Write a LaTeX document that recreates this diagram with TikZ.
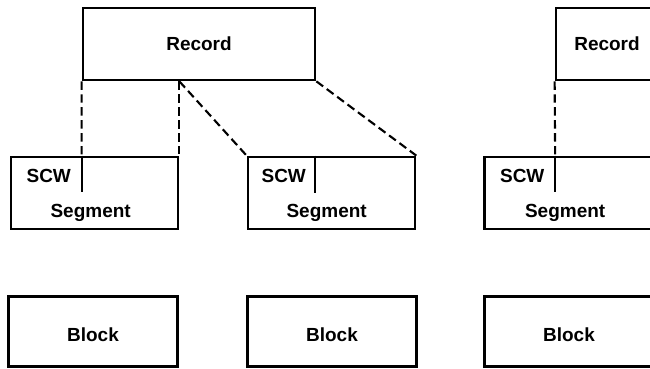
\documentclass[tikz,border=0pt]{standalone}
\usepackage{fontspec}
\setmainfont{Liberation Sans}
\usepackage{tikz}
\usetikzlibrary{calc}

\begin{document}
\begin{tikzpicture}[
  x=0.025cm, y=-0.025cm,
  box/.style={
    draw=black,
    line width=1.9pt,
    minimum height=1.8cm,
    inner sep=0pt
  },
  recbox/.style={box, minimum width=5.8cm},
  segbox/.style={box, minimum width=4.175cm},
  blockbox/.style={box, minimum width=4.225cm, minimum height=1.75cm},
  divider/.style={draw=black, line width=1.5pt},
  link/.style={draw=black, line width=1.5pt, dash pattern=on 6pt off 3.2pt},
  every node/.style={font=\fontsize{13.5}{16}\selectfont\bfseries}
]
\useasboundingbox (0,0) rectangle (650,368);
\clip (0,0) rectangle (650,368);

% records
\node[recbox] (rec1) at (199,44) {Record};
\node[recbox, minimum width=2.55cm] (rec2) at (607,44) {Record};

% segments with their control words
\node[segbox] (seg1) at (94.5,193) {};
\node[segbox] (seg2) at (331.5,193) {};
\node[segbox] (seg3) at (568,193) {};

\coordinate (div1) at ($(seg1.north west)+(72,0)$);
\coordinate (div2) at ($(seg2.north west)+(68,0)$);
\coordinate (div3) at ($(seg3.north west)+(72,0)$);
\draw[divider] (div1) -- ++(0,36);
\draw[divider] (div2) -- ++(0,37);
\draw[divider] (div3) -- ++(0,36);

\node[anchor=base west] (scw1) at ($(seg1.north west)+(12,27)$) {SCW};
\node[anchor=base west] (scw2) at ($(seg2.north west)+(10,27)$) {SCW};
\node[anchor=base west] (scw3) at ($(seg3.north west)+(12,27)$) {SCW};
\node[anchor=base] (segtxt1) at ($(seg1.north west)+(81,62)$) {Segment};
\node[anchor=base] (segtxt2) at ($(seg2.north west)+(80,62)$) {Segment};
\node[anchor=base] (segtxt3) at ($(seg3.north west)+(82,62)$) {Segment};

% blocks
\node[blockbox] (blk1) at (93,331.5) {};
\node[blockbox] (blk2) at (332,331.5) {};
\node[blockbox] (blk3) at (569,331.5) {};
\node (blktxt1) at ($(blk1.center)+(0,3)$) {Block};
\node (blktxt2) at ($(blk2.center)+(0,3)$) {Block};
\node (blktxt3) at ($(blk3.center)+(0,3)$) {Block};

% record to segment mapping
\coordinate (fork) at (rec1.south -| seg1.north east);
\draw[link] (rec1.south west) -- (div1);
\draw[link] (fork) -- (seg1.north east);
\draw[link] (fork) -- (seg2.north west);
\draw[link] (rec1.south east) -- (seg2.north east);
\draw[link] (rec2.south west) -- (div3);
\end{tikzpicture}
\end{document}
